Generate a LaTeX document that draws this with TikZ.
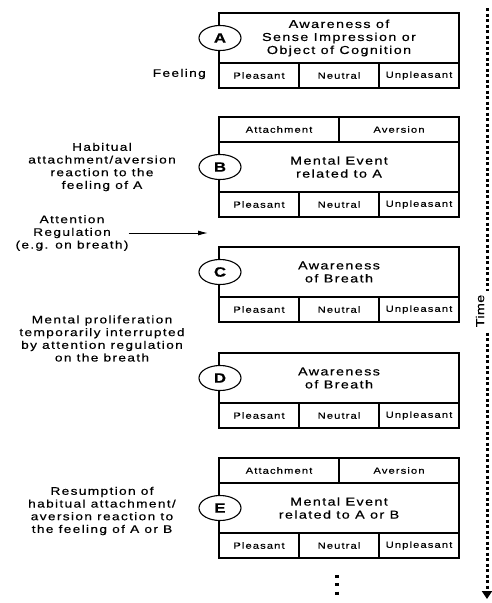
\documentclass[tikz,border=0pt]{standalone}
\usepackage{fontspec}
\setmainfont{Liberation Sans}[FakeStretch=1.25,LetterSpace=12,FakeBold=0.4]
\usetikzlibrary{shapes.geometric,arrows.meta}
\tikzset{
  box/.style={draw, line width=1.2pt, inner sep=0pt, minimum width=240pt, minimum height=50pt, align=center, font=\fontsize{11.5}{13}\selectfont},
  cell/.style={draw, line width=1.2pt, inner sep=0pt, minimum width=80pt, minimum height=25pt, font=\fontsize{9}{10}\selectfont},
  half/.style={cell, minimum width=120pt},
  tag/.style={ellipse, draw, fill=white, line width=1.1pt, minimum width=42pt, minimum height=25pt, inner sep=0pt, font=\bfseries\fontsize{13.5}{13.5}\selectfont},
  lbl/.style={align=center, inner sep=0pt, font=\fontsize{11}{12.7}\selectfont},
  timeline/.style={line width=3pt, dash pattern=on 3pt off 2.5pt},
}
\begin{document}
\begin{tikzpicture}[x=1pt,y=-1pt]
\useasboundingbox (0,0) rectangle (491,603);
% Box A
\node[box] (Am) at (339,38) {Awareness of\\Sense Impression or\\Object of Cognition};
\node[cell] (Ap) at (259,75.5) {Pleasant};
\node[cell] (An) at (339,75.5) {Neutral};
\node[cell] (Au) at (419,75.5) {Unpleasant};
% Box B
\node[half] (Bat) at (279,129.5) {Attachment};
\node[half] (Bav) at (399,129.5) {Aversion};
\node[box] (Bm) at (339,167) {Mental Event\\related to A};
\node[cell] (Bp) at (259,204.5) {Pleasant};
\node[cell] (Bn) at (339,204.5) {Neutral};
\node[cell] (Bu) at (419,204.5) {Unpleasant};
% Box C
\node[box] (Cm) at (339,272) {Awareness\\of Breath};
\node[cell] (Cp) at (259,309.5) {Pleasant};
\node[cell] (Cn) at (339,309.5) {Neutral};
\node[cell] (Cu) at (419,309.5) {Unpleasant};
% Box D
\node[box] (Dm) at (339,378) {Awareness\\of Breath};
\node[cell] (Dp) at (259,415.5) {Pleasant};
\node[cell] (Dn) at (339,415.5) {Neutral};
\node[cell] (Du) at (419,415.5) {Unpleasant};
% Box E
\node[half] (Eat) at (279,470.5) {Attachment};
\node[half] (Eav) at (399,470.5) {Aversion};
\node[box] (Em) at (339,508) {Mental Event\\related to A or B};
\node[cell] (Ep) at (259,545.5) {Pleasant};
\node[cell] (En) at (339,545.5) {Neutral};
\node[cell] (Eu) at (419,545.5) {Unpleasant};
% Tags
\node[tag] (tA) at (220,38) {A};
\node[tag] (tB) at (220,167) {B};
\node[tag] (tC) at (220,272) {C};
\node[tag] (tD) at (220,378) {D};
\node[tag] (tE) at (220,508) {E};
% Left labels
\node[lbl, anchor=east] (feel) at (206,74) {Feeling};
\node[lbl] (habit) at (102,167) {Habitual\\attachment/aversion\\reaction to the\\feeling of A};
\node[lbl] (attn) at (72,233) {Attention\\Regulation\\(e.g. on breath)};
\node[lbl] (prolif) at (102,338.5) {Mental proliferation\\temporarily interrupted\\by attention regulation\\on the breath};
\node[lbl] (resume) at (102,511) {Resumption of\\habitual attachment/\\aversion reaction to\\the feeling of A or B};
\coordinate (attnEnd) at (208,233);
\draw[line width=1pt, -{Latex[length=10pt,width=5pt]}] (attn.east |- attnEnd) -- (attnEnd);
% Time
\coordinate (timeTop) at (487,8);
\coordinate (timeBot) at (487,599);
\draw[timeline, -{Triangle[length=8pt,width=10pt]}] (timeTop) -- (timeBot);
\node[fill=white, rotate=90, inner sep=0pt, minimum width=40pt, minimum height=18pt, font=\fontsize{11.5}{12}\selectfont\addfontfeature{LetterSpace=3}] (time) at (480,311) {Time};
% continuation dots
\coordinate (dotsTop) at (337,575);
\coordinate (dotsBot) at (337,595);
\draw[line width=3.2pt, dash pattern=on 3pt off 5.3pt] (dotsTop) -- (dotsBot);
\end{tikzpicture}
\end{document}
